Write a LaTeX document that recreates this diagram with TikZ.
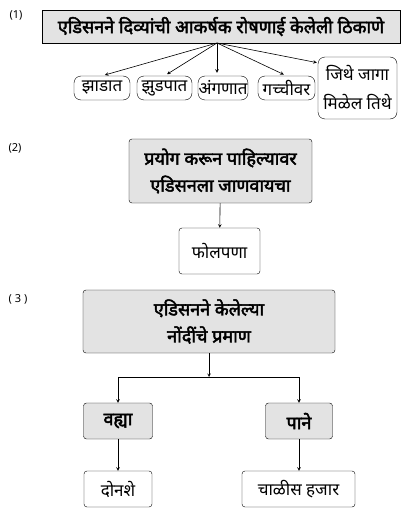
\documentclass[tikz,border=0pt]{standalone}
\usepackage{fontspec}
\setmainfont[Script=Devanagari, AutoFakeBold=2.5]{Noto Sans}
\usetikzlibrary{arrows, positioning}

\begin{document}
\begin{tikzpicture}[
    x=1pt, y=-1pt,
    head/.style={rectangle, draw=black, fill=gray!22, inner sep=0pt, font=\bfseries\fontsize{18}{27}\selectfont, align=center},
    headround/.style={head, rounded corners=3pt},
    leaf/.style={rectangle, rounded corners=7pt, draw=black, fill=white, inner sep=0pt, font=\fontsize{17}{29}\selectfont, align=center},
    leafbox/.style={leaf, rounded corners=3pt},
    num/.style={font=\fontsize{11}{12}\selectfont},
    arrow/.style={->, >=stealth, semithick}
]
\useasboundingbox (0,0) rectangle (405,511);

% Part 1
\node[num] (n1) at (16,15) {(1)};
\node[head, minimum width=358pt, minimum height=33pt] (places) at (221,26.5) {एडिसनने दिव्यांची आकर्षक रोषणाई केलेली ठिकाणे};
\coordinate (hub) at (217,43);
\node[leaf, minimum width=56pt, minimum height=24pt] (tree) at (102,88) {झाडात};
\node[leaf, minimum width=55pt, minimum height=24pt] (bush) at (164.5,88) {झुडपात};
\node[leaf, minimum width=50pt, minimum height=24pt] (yard) at (223,88) {अंगणात};
\node[leaf, minimum width=57pt, minimum height=24pt] (terrace) at (286.5,88) {गच्चीवर};
\node[leaf, minimum width=79pt, minimum height=62pt] (anywhere) at (357.5,88) {जिथे जागा\\मिळेल तिथे};

\draw[arrow, shorten >=3pt] (hub) -- (tree.north);
\draw[arrow, shorten >=3pt] (hub) -- (bush.north);
\draw[arrow, shorten >=3pt] (hub) -- (hub |- yard.north);
\draw[arrow, shorten >=3pt] (hub) -- (terrace.north);
\draw[arrow, shorten >=1pt] (hub) -- ([yshift=-6pt]anywhere.north west);

% Part 2
\node[num] (n2) at (15,148) {(2)};
\node[headround, minimum width=183pt, minimum height=64pt] (feel) at (220.5,171) {प्रयोग करून पाहिल्यावर\\एडिसनला जाणवायचा};
\node[leafbox, minimum width=81pt, minimum height=46pt] (futile) at (219.5,251) {फोलपणा};
\draw[arrow] (feel) -- (futile);

% Part 3
\node[num] (n3) at (18,299) {( 3 )};
\node[headround, minimum width=252pt, minimum height=63pt] (notes) at (209,321.5) {एडिसनने केलेल्या\\नोंदींचे प्रमाण};
\coordinate (split) at (209,377);
\node[headround, minimum width=69pt, minimum height=36pt] (books) at (118,421) {वह्या};
\node[headround, minimum width=67pt, minimum height=36pt] (pages) at (299,421) {पाने};
\node[leafbox, minimum width=68pt, minimum height=36pt] (twohundred) at (118,489) {दोनशे};
\node[leafbox, minimum width=113pt, minimum height=36pt] (fortythousand) at (298.5,489) {चाळीस हजार};

\draw[arrow] (notes.south) -- (split);
\draw[arrow] (split) -| (books.north);
\draw[arrow] (split) -| (pages.north);
\draw[arrow] (books) -- (twohundred);
\draw[arrow] (pages) -- (pages |- fortythousand.north);

\end{tikzpicture}
\end{document}
